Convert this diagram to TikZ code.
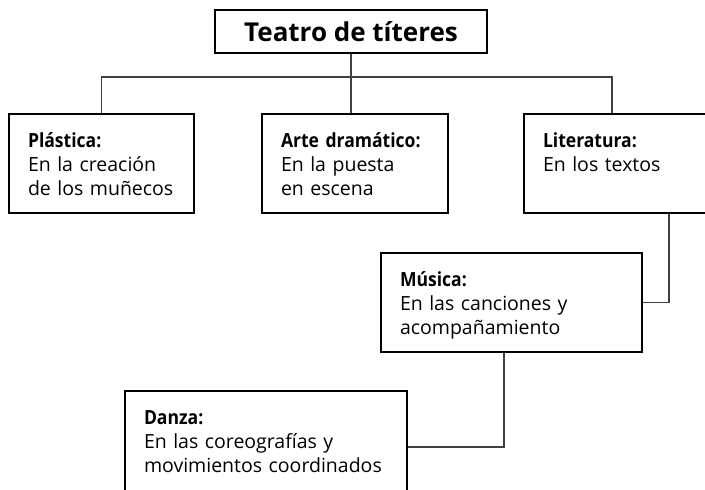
\documentclass[tikz,border=0pt]{standalone}
\usepackage{fontspec}
\setmainfont{Open Sans}[BoldFeatures={FakeStretch=0.9}]
\newfontfamily\titulofont{Open Sans}
\hyphenpenalty=10000
\tikzset{
  conn/.style={line width=1.1pt, draw=black!75},
  cajatit/.style={draw, line width=2pt, anchor=north west, inner xsep=10pt,
    minimum width=272pt, minimum height=43pt, font=\titulofont\fontsize{26}{30}\selectfont\bfseries},
  caja/.style={draw, line width=2pt, anchor=north west, align=left,
    inner xsep=19pt, inner ysep=19pt, text width=#1,
    text height=14pt, text depth=47pt, font=\fontsize{19.5}{24}\selectfont},
}
\begin{document}
\begin{tikzpicture}[x=1pt, y=-1pt]
  \useasboundingbox (0,0) rectangle (705,490);
  \clip (0,0) rectangle (705,490);

  % titulo
  \node[cajatit] (titulo) at (214,9) {Teatro de títeres};

  % primera fila
  \node[caja=147pt] (plastica) at (8,113) {\textbf{Plástica:}\\En~la~creación\\de~los~muñecos};
  \node[caja=148pt] (arte) at (261,113) {\textbf{Arte~dramático:}\\En~la~puesta\\en~escena};
  \node[caja=157pt] (literatura) at (523,113) {\textbf{Literatura:}\\En~los~textos};

  % segunda y tercera fila
  \node[caja=223pt] (musica) at (380,252) {\textbf{Música:}\\En~las~canciones~y\\acompañamiento};
  \node[caja=244pt, text depth=60pt] (danza) at (124,390) {\textbf{Danza:}\\En~las~coreografías~y\\movimientos~coordinados};

  % conectores
  \draw[conn] (titulo.south) -- (titulo.south |- arte.north);
  \draw[conn] (plastica.north) -- ++(0,-36) -| ([xshift=89pt]literatura.north west);
  \draw[conn] ([xshift=146pt]literatura.south west) |- (musica.east);
  \draw[conn] ([xshift=124pt]musica.south west) |- (danza.east);
\end{tikzpicture}
\end{document}
